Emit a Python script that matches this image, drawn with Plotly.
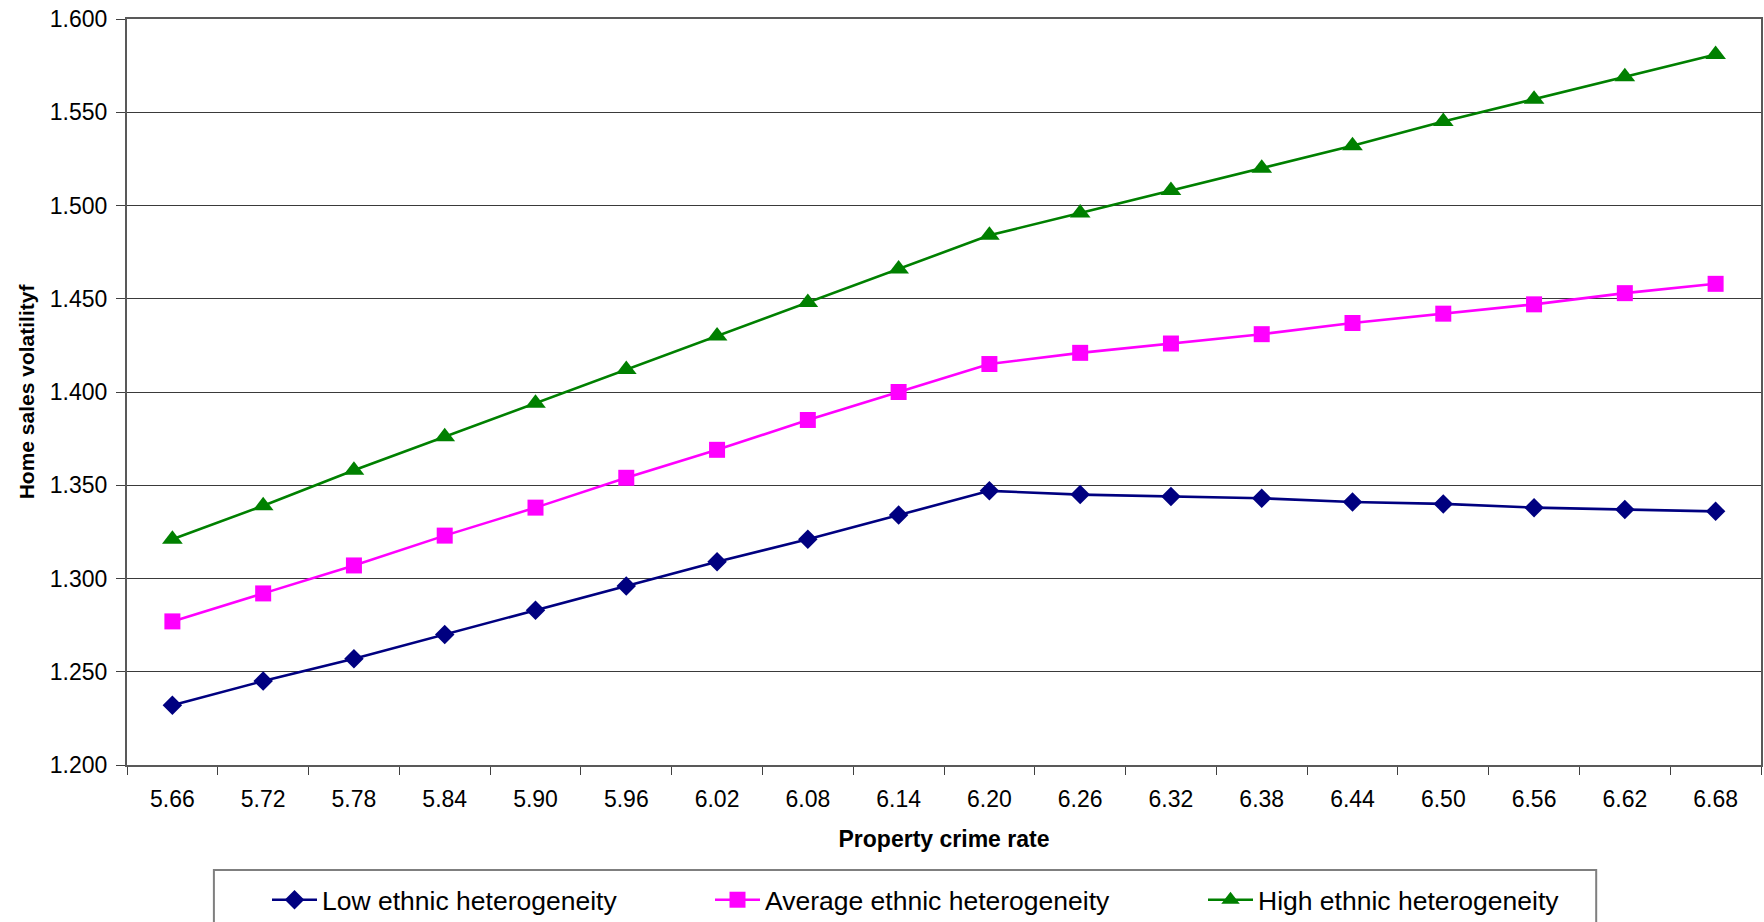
import plotly.graph_objects as go

crime_rate = ["5.66", "5.72", "5.78", "5.84", "5.90", "5.96", "6.02", "6.08", "6.14",
              "6.20", "6.26", "6.32", "6.38", "6.44", "6.50", "6.56", "6.62", "6.68"]

low_het = [1.232, 1.245, 1.257, 1.270, 1.283, 1.296, 1.309, 1.321, 1.334,
           1.347, 1.345, 1.344, 1.343, 1.341, 1.340, 1.338, 1.337, 1.336]
avg_het = [1.277, 1.292, 1.307, 1.323, 1.338, 1.354, 1.369, 1.385, 1.400,
           1.415, 1.421, 1.426, 1.431, 1.437, 1.442, 1.447, 1.453, 1.458]
high_het = [1.321, 1.339, 1.358, 1.376, 1.394, 1.412, 1.430, 1.448, 1.466,
            1.484, 1.496, 1.508, 1.520, 1.532, 1.545, 1.557, 1.569, 1.581]

series_names = ["Low ethnic heterogeneity", "Average ethnic heterogeneity",
                "High ethnic heterogeneity"]
y_ticks = [1.200, 1.250, 1.300, 1.350, 1.400, 1.450, 1.500, 1.550, 1.600]

FONT = "Liberation Sans, Arial, sans-serif"
W, H = 1764, 922
L, R, T, B = 127, 1, 19, 157

fig = go.Figure()
styles = [
    (low_het, "#000080", "diamond", 15, 383),
    (avg_het, "#FF00FF", "square", 16, 433),
    (high_het, "#008000", "triangle-up", 18, 340),
]
for name, (vals, color, sym, size, lw) in zip(series_names, styles):
    fig.add_trace(go.Scatter(
        x=crime_rate, y=vals, name=name, mode="lines+markers",
        line=dict(color=color, width=2.6),
        marker=dict(symbol=sym, size=size, color=color, line=dict(width=0)),
        legendwidth=lw,
    ))

pw = W - L - R
ph = H - T - B
fig.add_shape(type="rect", xref="paper", yref="paper",
              x0=(214 - L) / pw, x1=(1598 - L) / pw,
              y0=(H - B - 870) / ph, y1=(H - B - 945) / ph,
              line=dict(color="#7f7f7f", width=2), fillcolor="rgba(0,0,0,0)")

fig.update_layout(
    width=W, height=H,
    margin=dict(l=L, r=R, t=T, b=B, pad=0),
    paper_bgcolor="white", plot_bgcolor="white",
    font=dict(family=FONT, size=23, color="black"),
    showlegend=True,
    legend=dict(
        orientation="h", xref="container", yref="container",
        x=267 / W, xanchor="left", y=(H - 876) / H, yanchor="top",
        font=dict(family=FONT, size=26.5, color="black"),
        borderwidth=0, bgcolor="rgba(0,0,0,0)", itemwidth=45,
        traceorder="normal",
    ),
    xaxis=dict(
        type="category", range=[-0.5, len(crime_rate) - 0.5],
        tickson="boundaries", ticks="outside", ticklen=8, tickwidth=1,
        tickcolor="#404040", showgrid=False,
        showline=True, linecolor="#595959", linewidth=2, mirror=True,
        tickfont=dict(size=23), ticklabelstandoff=12,
        title=dict(text="<b>Property crime rate</b>", font=dict(size=23), standoff=20),
    ),
    yaxis=dict(
        range=[1.2, 1.6], tickvals=y_ticks, tickformat=".3f",
        ticks="outside", ticklen=9, tickwidth=1, tickcolor="#404040",
        showgrid=True, gridcolor="#3a3a3a", gridwidth=1,
        showline=True, linecolor="#595959", linewidth=2, mirror=True,
        tickfont=dict(size=23), ticklabelstandoff=4,
        title=dict(text="<b>Home sales volatilityf</b>", font=dict(size=21), standoff=9),
        zeroline=False,
    ),
)

fig.write_html(
    "out.html",
    config={"displayModeBar": False},
    post_script="document.body.style.margin='0';document.body.style.overflow='hidden';",
)
